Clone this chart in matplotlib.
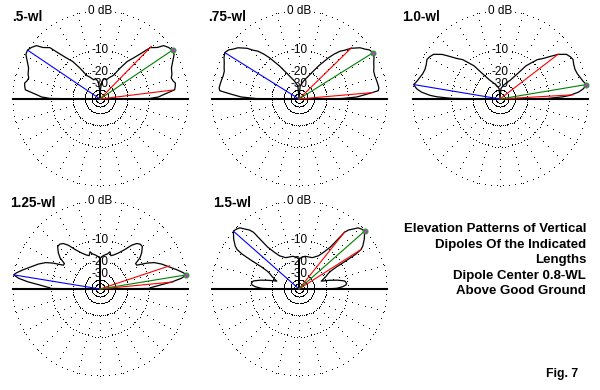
import numpy as np
import matplotlib.pyplot as plt

plt.rcParams['font.family'] = ['Liberation Sans', 'DejaVu Sans']

# elevation patterns (right half, elevation deg / gain dB), pattern is symmetric about zenith
el_05 = [0, 0.3, 0.6, 2, 4, 7, 10, 12, 14, 16.5, 19, 23.5, 27.5, 31, 34, 37, 40, 42, 45.7,
         48, 51, 54, 57, 60.5, 66, 72, 78, 84, 88, 90]
db_05 = [-99, -27.6, -9.7, -6.9, -5.4, -2.6, -2.3, -2.2, -2.6, -2.8, -2.4, -2.0, -1.1, -0.2, 0,
         -0.35, -0.9, -2.2, -3.4, -6.1, -8.8, -10.9, -14.9, -20.1, -22.5, -25.2, -24.5, -27.6, -39.5, -99]

el_075 = [0, 0.3, 0.6, 2, 3.8, 5, 6, 8, 11, 14, 17, 20.4, 23, 25.8, 29, 32, 35, 37, 40, 44.3,
          47, 49.3, 52, 54.4, 59.4, 65.7, 76, 85, 90]
db_075 = [-99, -26, -12.2, -7.1, -4.7, -3.0, -1.6, -1.4, -1.5, -1.6, -1.7, -1.6, -1.25, -0.9, -0.35,
          0, -0.35, -0.95, -1.6, -3.2, -4.7, -5.6, -7.4, -9.35, -14.1, -20.1, -26.8, -32.6, -99]

el_10 = [0, 0.3, 0.7, 2, 3, 5, 7, 9.5, 12, 15.5, 18, 21.5, 25, 28.4, 31, 34, 37.6, 40, 43,
         46.5, 49, 52, 55, 61, 74, 85, 90]
db_10 = [-99, -23.8, -10.3, -5.6, -3.8, -1.8, -0.7, 0, -0.5, -0.95, -1.25, -1.4, -1.25, -0.9, -1.1,
         -1.55, -3.1, -4.7, -6.6, -8.2, -10.3, -12.6, -17.5, -23.8, -30.4, -36.4, -99]

el_125 = [0, 0.3, 0.6, 1.5, 3.6, 5.7, 7.5, 9.3, 11, 13.8, 18.8, 22, 26, 29, 31, 33, 35.5, 38,
          41, 45, 48, 51, 54, 58, 63, 68, 72, 75, 78, 83, 87, 89.5, 90]
db_125 = [-99, -26, -10, -9.35, -6.6, -3.2, -1.1, 0, -0.5, -1.6, -3.6, -4.7, -6.4, -8.5, -10.3,
          -11.9, -11.9, -9.35, -7.9, -6.5, -6.4, -6.9, -8.2, -10.9, -13.3, -14.9, -15.7, -14.1,
          -15.3, -16.2, -17.1, -18, -99]

el_15 = [0, 0.3, 1, 3, 5, 7, 10, 13, 16, 19.5, 22, 25, 28, 29.5, 30.5, 31, 31.5, 32.5, 34,
         37.3, 41.4, 44, 46, 48, 50, 51.3, 52, 53.2, 56.4, 59.6, 67, 79.5, 86, 89.5, 90]
db_15 = [-99, -19.6, -14.5, -11.9, -10.6, -10.3, -10.9, -13.7, -17.5, -22.5, -20.7, -18.5, -16.6,
         -14.9, -11.9, -7.7, -4.7, -3.0, -2.2, -1.1, 0, -0.2, -0.5, -1.4, -2.2, -3.2, -5.6, -8.8,
         -11.9, -14.1, -16.2, -16.6, -17.5, -18.5, -99]

titles = ['.5-wl', '.75-wl', '1.0-wl', '1.25-wl', '1.5-wl']
patterns = [(el_05, db_05), (el_075, db_075), (el_10, db_10), (el_125, db_125), (el_15, db_15)]
max_el = [34, 32, 9.5, 9.3, 41.4]      # main lobe (green / blue cursor)
hp_lo = [7, 5, 3.3, 5.5, 32.5]         # -3 dB points (red)
hp_hi = [45.7, 44.3, 37.6, 18.4, 51.3]

ring_db = [0, -10, -20, -30, -40, -50]
ring_lbl = ['0 dB', '-10', '-20', '-30']

note = ['Elevation Patterns of Vertical', 'Dipoles Of the Indicated', 'Lengths',
        'Dipole Center 0.8-WL', 'Above Good Ground']


def arrl(db):
    # ARRL log scale: 0.89 radius factor per 2 dB
    return 0.89 ** (-np.asarray(db, dtype=float) / 2)


W, H = 600, 390
R = 87.5
centers = [(100, 99), (299, 99), (500, 99), (100, 289), (299, 289)]
title_xy = [(12, 17), (208, 17), (402, 17), (10, 203), (213, 203)]

fig = plt.figure(figsize=(6, 3.9), dpi=100)
fig.patch.set_facecolor('white')

for i, (cx, cy) in enumerate(centers):
    ax = fig.add_axes([(cx - R) / W, (H - cy - R) / H, 2 * R / W, 2 * R / H], projection='polar')
    ax.set_theta_zero_location('E')
    ax.set_ylim(0, 1)
    ax.axis('off')

    # dotted grid rings
    th = np.deg2rad(np.arange(0, 360, 4))
    for lev in ring_db:
        ax.plot(th, np.full_like(th, arrl(lev)), ',', color='black', clip_on=False)
    # dotted spokes
    rr = np.arange(1.0, 0.3, -0.075)
    for a in range(0, 360, 15):
        ax.plot(np.full_like(rr, np.deg2rad(a)), rr, ',', color='black', clip_on=False)

    for lev, txt in zip(ring_db, ring_lbl):
        ax.text(np.pi / 2, arrl(lev), txt, ha='center', va='center', fontsize=8.5,
                bbox=dict(facecolor='white', edgecolor='none', pad=0.1), zorder=3)

    # ground line
    ax.plot([np.pi, np.pi, 0, 0], [1, 0, 0, 1], color='black', lw=1.5, zorder=4, clip_on=False)

    el, db = patterns[i]
    el = np.asarray(el, dtype=float)
    r = arrl(db)
    th_full = np.deg2rad(np.concatenate([el, 180 - el[::-1]]))
    r_full = np.concatenate([r, r[::-1]])
    ax.plot(th_full, r_full, color='black', lw=0.9, zorder=5, clip_on=False)

    # cursors
    m = np.deg2rad(max_el[i])
    ax.plot([np.pi - m, np.pi - m], [0, 1], color='#0000ff', lw=0.8, zorder=6)
    for h in (hp_lo[i], hp_hi[i]):
        ax.plot([np.deg2rad(h)] * 2, [0, arrl(-3.0)], color='#ff0000', lw=0.8, zorder=6)
    ax.plot([m, m], [0, 1], color='#008000', lw=0.8, zorder=6)
    ax.plot([m], [1], 'o', ms=3.5, mfc='#b040c0', mec='#20a020', mew=0.8, zorder=7, clip_on=False)

    tx, ty = title_xy[i]
    fig.text(tx / W, 1 - ty / H, titles[i], fontsize=9.8, fontweight='bold', va='center', ha='left')

fig.text(586 / W, 1 - 223 / H, '\n'.join(note), ha='right', va='top', ma='right',
         fontsize=9.5, fontweight='bold', linespacing=1.4)
fig.text(578 / W, 1 - 374 / H, 'Fig. 7', ha='right', va='center', fontsize=8.8, fontweight='bold')

fig.savefig('out.png', dpi=100, facecolor='white')
